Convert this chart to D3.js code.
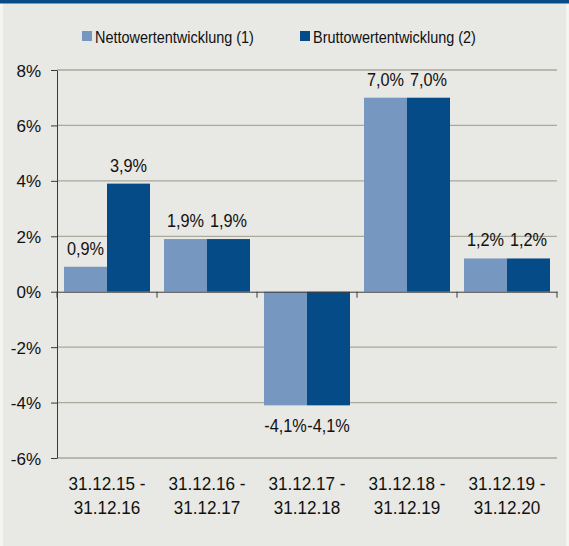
<!DOCTYPE html>
<html>
<head>
<meta charset="utf-8">
<script src="https://cdn.jsdelivr.net/npm/d3@7"></script>
<style>
    body { margin: 0; background: #f4f4f2; }
    svg { display: block; font-family: "Liberation Sans", Arial, sans-serif; }
    .grid line { stroke: #aaa99c; stroke-width: 1.3; }
    .axis path, .axis line { stroke: #3a3a3a; }
    .axis text { fill: #111; font-size: 17px; }
    .cat-label { fill: #111; font-size: 19px; }
    .value-label { fill: #111; font-size: 18.5px; }
    .legend text { fill: #111; font-size: 17px; }
</style>
</head>
<body>
<svg id="chart" width="569" height="546"></svg>
<script>
    // chart data
    const periods = [
        ["31.12.15 -", "31.12.16"],
        ["31.12.16 -", "31.12.17"],
        ["31.12.17 -", "31.12.18"],
        ["31.12.18 -", "31.12.19"],
        ["31.12.19 -", "31.12.20"]
    ];
    const seriesNames = ["Nettowertentwicklung (1)", "Bruttowertentwicklung (2)"];
    const netto = [0.9, 1.9, -4.1, 7.0, 1.2];
    const brutto = [3.9, 1.9, -4.1, 7.0, 1.2];
    const yTicks = [-6, -4, -2, 0, 2, 4, 6, 8];

    const colors = ["#7697bf", "#054b87"];
    const margin = {top: 70, right: 12, bottom: 88, left: 57};
    const width = 557 - margin.left;
    const height = 458 - margin.top;

    let svg = d3.select("#chart");

    // background, top rule
    svg.append("rect").attr("x", 3).attr("y", 0).attr("width", 563).attr("height", 546).attr("fill", "#e8e8e4");
    svg.append("rect").attr("x", 0).attr("y", 0).attr("width", 569).attr("height", 3.5).attr("fill", "#0a4a87");

    let chart = svg.append("g").attr("transform", "translate(" + margin.left + "," + margin.top + ")");

    let keys = periods.map(function(d, i) { return i; });
    let xScale = d3.scaleBand().domain(keys).range([0, width]).paddingInner(0.14).paddingOuter(0.07);
    let xSub = d3.scaleBand().domain([0, 1]).range([0, xScale.bandwidth()]);
    let yScale = d3.scaleLinear().domain([-6, 8]).range([height, 0]);
    let xOuter = d3.scaleBand().domain(keys).range([0, width]);

    // gridlines
    chart.append("g").attr("class", "grid")
        .selectAll("line").data(yTicks.filter(function(d) { return d !== 0; }))
        .enter().append("line")
            .attr("x1", 0).attr("x2", width)
            .attr("y1", function(d) { return yScale(d); })
            .attr("y2", function(d) { return yScale(d); });

    // bars
    let data = periods.map(function(p, i) { return [netto[i], brutto[i]]; });
    let groups = chart.selectAll(".group").data(data).enter().append("g")
        .attr("class", "group")
        .attr("transform", function(d, i) { return "translate(" + xScale(i) + ",0)"; });

    groups.selectAll("rect").data(function(d) { return d; }).enter().append("rect")
        .attr("x", function(d, j) { return xSub(j); })
        .attr("width", xSub.bandwidth())
        .attr("y", function(d) { return yScale(Math.max(0, d)); })
        .attr("height", function(d) { return Math.abs(yScale(d) - yScale(0)); })
        .attr("fill", function(d, j) { return colors[j]; });

    groups.selectAll("text").data(function(d) { return d; }).enter().append("text")
        .attr("class", "value-label")
        .attr("text-anchor", "middle")
        .attr("transform", function(d, j) {
            let x = xSub(j) + xSub.bandwidth() / 2;
            let y = d >= 0 ? yScale(d) - 12 : yScale(d) + 27;
            return "translate(" + x + "," + y + ") scale(0.88,1)";
        })
        .text(function(d) { return d.toFixed(1).replace(".", ",") + "%"; });

    // y axis
    let yAxis = chart.append("g").attr("class", "y axis")
        .call(d3.axisLeft(yScale).tickValues(yTicks).tickSize(6).tickSizeOuter(0)
            .tickFormat(function(d) { return d + "%"; }));
    yAxis.selectAll("text").attr("x", -16).attr("dy", "0.36em");

    // x axis at zero
    let xAxis = chart.append("g").attr("class", "x axis")
        .attr("transform", "translate(0," + yScale(0) + ")")
        .call(d3.axisBottom(xOuter).tickValues([]).tickSizeOuter(0));
    xAxis.selectAll(".sep").data(d3.range(periods.length + 1)).enter().append("line")
        .attr("class", "sep")
        .attr("x1", function(i) { return i * xOuter.step(); })
        .attr("x2", function(i) { return i * xOuter.step(); })
        .attr("y1", 0).attr("y2", 6);

    // category labels
    let catLabels = chart.append("g")
        .selectAll("text").data(periods).enter().append("text")
            .attr("class", "cat-label")
            .attr("text-anchor", "middle")
            .attr("transform", function(d, i) {
                return "translate(" + (xOuter(i) + xOuter.bandwidth() / 2) + "," + (height + 32) + ") scale(0.9,1)";
            });
    catLabels.selectAll("tspan").data(function(d) { return d; }).enter().append("tspan")
        .attr("x", 0)
        .attr("dy", function(d, j) { return j === 0 ? 0 : 24; })
        .text(function(d) { return d; });

    // legend
    let legend = svg.append("g").attr("class", "legend").attr("transform", "translate(82,30)");
    let legendX = [0, 218];
    let items = legend.selectAll("g").data(seriesNames).enter().append("g")
        .attr("transform", function(d, i) { return "translate(" + legendX[i] + ",0)"; });
    items.append("rect").attr("width", 10).attr("height", 10).attr("y", 1)
        .attr("fill", function(d, i) { return colors[i]; });
    items.append("text").attr("transform", "translate(13,12.5) scale(0.85,1)").text(function(d) { return d; });
</script>
</body>
</html>
